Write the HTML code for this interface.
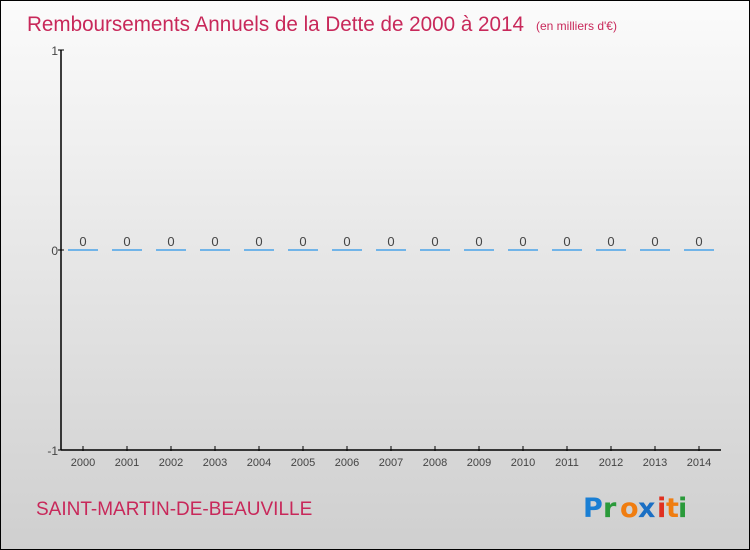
<!DOCTYPE html>
<html><head><meta charset="utf-8"><style>
body{margin:0}
#c{width:748px;height:548px;border:1px solid #000;background:linear-gradient(#fbfbfb,#cfcfcf);position:relative;font-family:"Liberation Sans",sans-serif;overflow:hidden}
</style></head><body>
<div id="c">
<svg width="748" height="548" xmlns="http://www.w3.org/2000/svg">
<text x="26" y="30" font-size="21" fill="#c8285a" font-family="Liberation Sans, sans-serif" textLength="497" lengthAdjust="spacingAndGlyphs">Remboursements Annuels de la Dette de 2000 à 2014</text>
<text x="535" y="29" font-size="12" fill="#c8285a">(en milliers d'€)</text>
<g id="axes"></g>
<text x="35" y="514" font-size="19" fill="#c8285a">SAINT-MARTIN-DE-BEAUVILLE</text>
<g font-size="27" font-weight="bold" font-family="DejaVu Sans, sans-serif">
<text x="582" y="516" fill="#1a7fd4">P</text><text x="602" y="516" fill="#2a9a3a">r</text><text x="619" y="516" fill="#f07d10">o</text><text x="637" y="516" fill="#1a6fc4">x</text><text x="656" y="516" fill="#e03020">i</text><text x="665" y="516" fill="#f07d10">t</text><text x="677" y="516" fill="#2a9a3a">i</text>
</g>
</svg>
</div>
<script>
const years=["2000","2001","2002","2003","2004","2005","2006","2007","2008","2009","2010","2011","2012","2013","2014"];
const values=[0,0,0,0,0,0,0,0,0,0,0,0,0,0,0];
const yTicks=[-1,0,1];
const NS="http://www.w3.org/2000/svg";
const g=document.getElementById("axes");
const x0=60,x1=720,yTop=49,yBot=449,yMin=-1,yMax=1;
const band=(x1-x0)/years.length;
function xs(i){return x0+band*(i+0.5);}
function ys(v){return yBot-(v-yMin)/(yMax-yMin)*(yBot-yTop);}
function mk(t,a){const e=document.createElementNS(NS,t);for(const k in a)e.setAttribute(k,a[k]);g.appendChild(e);return e;}
let e=mk("line",{x1:x0,y1:yTop,x2:x0,y2:yBot,stroke:"#000","stroke-width":1.5});


e=mk("line",{x1:x0,y1:yBot,x2:x1,y2:yBot,stroke:"#000","stroke-width":1.5});


yTicks.forEach(v=>{
 const y=ys(v);
 let t=mk("line",{x1:x0-3,y1:y,x2:x0+3,y2:y,stroke:"#000"});
 
 
 let l=mk("text",{x:x0-3,y:y+5,"text-anchor":"end","font-size":12,fill:"#444"});
 l.textContent=v;
 
 
});
years.forEach((yr,i)=>{
 const x=xs(i);
 let t=mk("line",{x1:x,y1:yBot-4,x2:x,y2:yBot+1,stroke:"#000"});
 
 
 let l=mk("text",{x:x,y:yBot+16,"text-anchor":"middle","font-size":11,fill:"#444"});
 l.textContent=yr;
 
 
 const y=ys(values[i]);
 let b=mk("line",{x1:x-15,y1:y,x2:x+15,y2:y,stroke:"#4aa3e8","stroke-width":1.5});
 
 
 let v=mk("text",{x:x,y:y-4,"text-anchor":"middle","font-size":13,fill:"#444"});
 v.textContent=values[i];
 
 
});
</script>
</body></html>
